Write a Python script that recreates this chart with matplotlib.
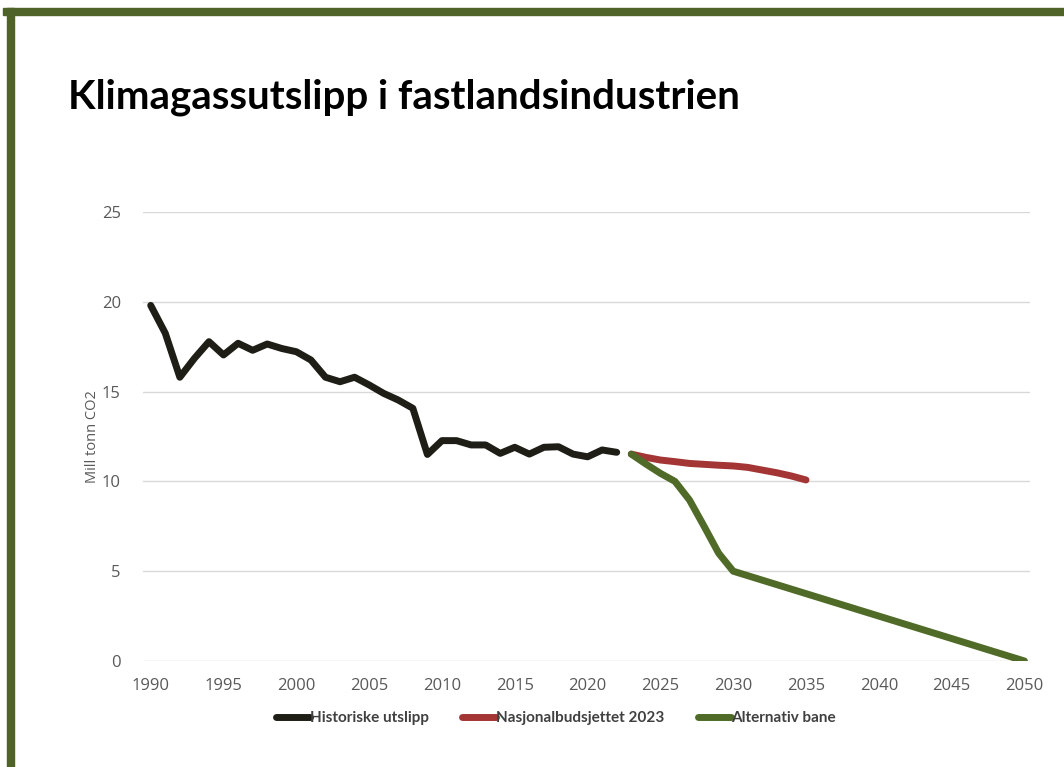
import matplotlib
matplotlib.use("Agg")
import matplotlib.pyplot as plt
from matplotlib.patches import Rectangle

# data
hist_years = list(range(1990, 2023))
hist_values = [19.8, 18.25, 15.8, 16.85, 17.78, 17.04, 17.69, 17.3, 17.65, 17.4,
               17.22, 16.76, 15.8, 15.55, 15.8, 15.37, 14.9, 14.53, 14.07, 11.5,
               12.27, 12.27, 12.03, 12.03, 11.56, 11.9, 11.52, 11.9, 11.93, 11.52,
               11.37, 11.75, 11.62]

nb_years = list(range(2023, 2036))
nb_values = [11.52, 11.34, 11.19, 11.1, 11.0, 10.95, 10.9, 10.86, 10.78, 10.63,
             10.48, 10.3, 10.08]

alt_years = list(range(2023, 2051))
alt_values = [11.52, 10.97, 10.45, 10.0, 8.96, 7.5, 6.0, 5.0, 4.75, 4.5,
              4.25, 4.0, 3.75, 3.5, 3.25, 3.0, 2.75, 2.5, 2.25, 2.0,
              1.75, 1.5, 1.25, 1.0, 0.75, 0.5, 0.25, 0.0]

series_names = ["Historiske utslipp", "Nasjonalbudsjettet 2023", "Alternativ bane"]
series_colors = ["#1e1e16", "#a33535", "#4f6b27"]

x_ticks = list(range(1990, 2051, 5))
y_ticks = [0, 5, 10, 15, 20, 25]

fig = plt.figure(figsize=(10.64, 7.67), dpi=100)
fig.patch.set_facecolor("white")

# olive frame (top and left edges)
frame_col = "#4f6228"
fig.patches.append(Rectangle((3 / 1064, 1 - 15 / 767), 1, 7 / 767,
                             transform=fig.transFigure, color=frame_col, zorder=0))
fig.patches.append(Rectangle((7 / 1064, 0), 7 / 1064, 1 - 8 / 767,
                             transform=fig.transFigure, color=frame_col, zorder=0))

fig.text(68 / 1064, 1 - 97 / 767, "Klimagassutslipp i fastlandsindustrien",
         fontsize=29, fontweight="bold", family="Lato", va="center", ha="left",
         color="black")

ax = fig.add_axes([143 / 1064, 1 - 661 / 767, (1030 - 143) / 1064, (661 - 212) / 767])
lw = 5
ax.plot(hist_years, hist_values, color=series_colors[0], lw=lw,
        solid_capstyle="round", solid_joinstyle="round", label=series_names[0])
ax.plot(nb_years, nb_values, color=series_colors[1], lw=lw,
        solid_capstyle="round", solid_joinstyle="round", label=series_names[1])
ax.plot(alt_years, alt_values, color=series_colors[2], lw=lw,
        solid_capstyle="round", solid_joinstyle="round", label=series_names[2])

ax.set_xlim(1989.47, 2050.38)
ax.set_ylim(0, 25)
ax.set_xticks(x_ticks)
ax.set_yticks(y_ticks)
ax.grid(axis="y", color="#d9d9d9", lw=1)
ax.set_axisbelow(True)
for s in ax.spines.values():
    s.set_visible(False)
ax.tick_params(length=0, labelsize=12, labelcolor="#595959")
ax.tick_params(axis="x", pad=12)
ax.tick_params(axis="y", pad=16)
for lab in ax.get_xticklabels() + ax.get_yticklabels():
    lab.set_family("Open Sans")
ax.set_ylabel("Mill tonn CO2", fontsize=10.5, color="#595959", family="Open Sans", labelpad=1)

leg = fig.legend(loc="center", bbox_to_anchor=(556 / 1064, 1 - 718 / 767), ncol=3,
                 frameon=False, handlelength=2.2, handletextpad=0.0, columnspacing=2.2,
                 prop={"family": "Lato", "weight": "bold", "size": 11})
for t in leg.get_texts():
    t.set_color("#404040")

fig.savefig("out.png", dpi=100)
